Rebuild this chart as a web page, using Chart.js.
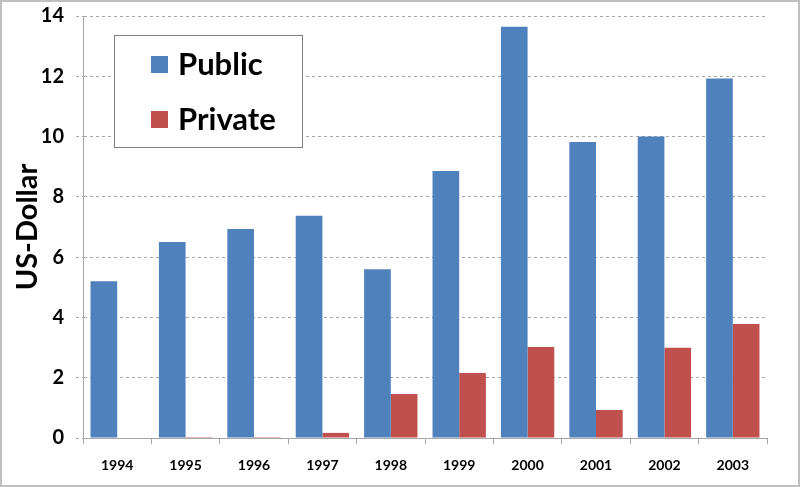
<!DOCTYPE html>
<html>
<head>
<meta charset="utf-8">
<title>Public / Private</title>
<script src="https://cdn.jsdelivr.net/npm/chart.js@4"></script>
<style>
  html, body { margin: 0; padding: 0; background: #fff; }
  #grafico { display: block; }
</style>
</head>
<body>
<canvas id="grafico" width="800" height="487"></canvas>
<script>
"use strict";

// datos
const years = ["1994", "1995", "1996", "1997", "1998", "1999", "2000", "2001", "2002", "2003"];
const publicValues = [5.2, 6.5, 6.93, 7.37, 5.6, 8.86, 13.64, 9.82, 10.0, 11.93];
const privateValues = [0, 0.03, 0.03, 0.17, 1.46, 2.16, 3.02, 0.93, 2.99, 3.78];
const yTicks = [0, 2, 4, 6, 8, 10, 12, 14];

const fuente = "Lato, 'Open Sans', sans-serif";
const gris = "#a6a6a6";

////////////////////////////////////////////////////// marco exterior
const marco = {
    id: "marco",
    beforeDraw(chart) {
        const ctx = chart.ctx;
        ctx.save();
        ctx.fillStyle = "#fff";
        ctx.fillRect(0, 0, chart.width, chart.height);
        ctx.strokeStyle = "#bfbfbf";
        ctx.lineWidth = 2;
        ctx.strokeRect(1, 1, chart.width - 2, chart.height - 2);
        ctx.restore();
    },
};

////////////////////////////////////////////////////// leyenda dentro del area
const leyenda = {
    id: "leyenda",
    afterDraw(chart) {
        const ctx = chart.ctx;
        const a = chart.chartArea;
        const x = a.left + 31, y = a.top + 19, w = 188, h = 112;
        ctx.save();
        ctx.fillStyle = "#fff";
        ctx.fillRect(x, y, w, h);
        ctx.strokeStyle = "#7f7f7f";
        ctx.lineWidth = 1;
        ctx.strokeRect(x + 0.5, y + 0.5, w, h);
        ctx.font = "bold 31px " + fuente;
        ctx.textBaseline = "middle";
        chart.data.datasets.forEach((ds, i) => {
            const cy = y + 29 + i * 55;
            ctx.fillStyle = ds.backgroundColor;
            ctx.fillRect(x + 37, cy - 8, 17, 17);
            ctx.fillStyle = "#000";
            ctx.fillText(ds.label, x + 64, cy + 1);
        });
        ctx.restore();
    },
};

////////////////////////////////////////////////////// MAIN
new Chart(document.getElementById("grafico").getContext("2d"), {
    type: "bar",
    data: {
        labels: years,
        datasets: [
            { label: "Public", data: publicValues, backgroundColor: "#4f81bd" },
            { label: "Private", data: privateValues, backgroundColor: "#c0504d" },
        ],
    },
    options: {
        responsive: false,
        animation: false,
        events: [],
        layout: { padding: { top: 16, right: 33, left: 0, bottom: 0 } },
        datasets: { bar: { categoryPercentage: 0.78, barPercentage: 1.0 } },
        plugins: {
            legend: { display: false },
            tooltip: { enabled: false },
        },
        scales: {
            x: {
                grid: {
                    display: true,
                    drawOnChartArea: false,
                    color: gris,
                    tickLength: 6,
                    offset: true,
                },
                border: { display: true, color: gris, width: 1 },
                ticks: {
                    color: "#000",
                    font: { family: fuente, size: 14, weight: "bold" },
                    padding: 13,
                    maxRotation: 0,
                },
                afterFit(scale) {
                    scale.height = 49;
                    scale.paddingLeft = 0;
                    scale.paddingRight = 0;
                },
            },
            y: {
                min: 0,
                max: 14,
                afterBuildTicks(scale) { scale.ticks = yTicks.map((v) => ({ value: v })); },
                grid: {
                    color: gris,
                    tickLength: 7,
                    tickBorderDash: [3, 3],
                },
                border: { display: true, color: gris, width: 1, dash: [3, 3] },
                ticks: {
                    color: "#000",
                    font: { family: fuente, size: 20, weight: "bold" },
                    padding: 12,
                },
                title: {
                    display: true,
                    text: "US-Dollar",
                    color: "#000",
                    font: { family: fuente, size: 29, weight: "bold" },
                    padding: { top: 10, bottom: 0 },
                },
                afterFit(scale) {
                    scale.width = 83;
                    scale.paddingTop = 0;
                    scale.paddingBottom = 0;
                },
            },
        },
    },
    plugins: [marco, leyenda],
});
</script>
</body>
</html>
